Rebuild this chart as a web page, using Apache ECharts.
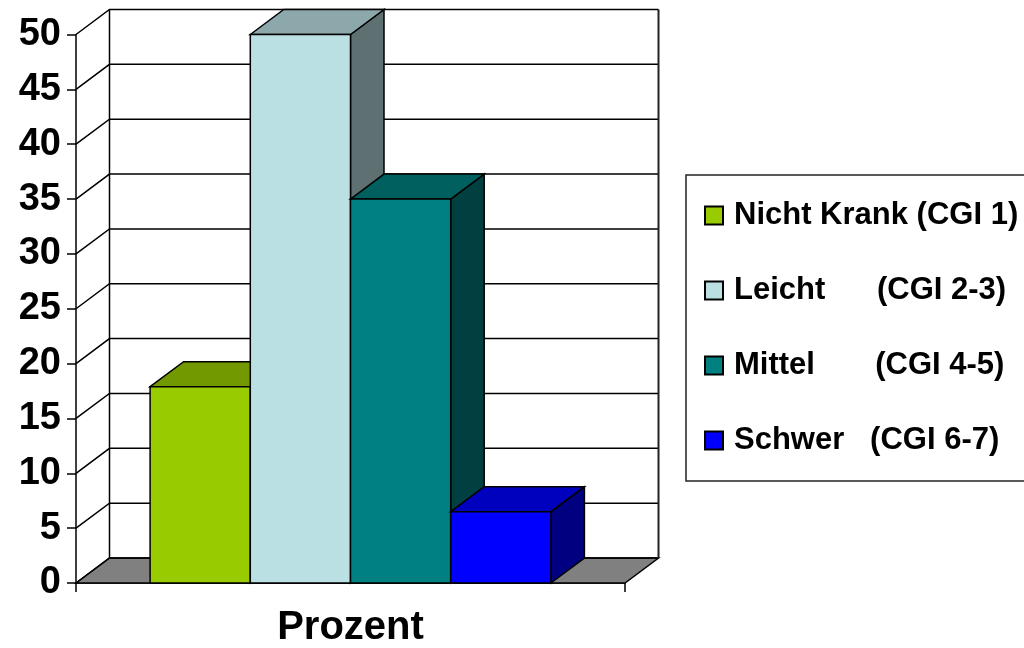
<!DOCTYPE html>
<html>
<head>
<meta charset="utf-8">
<style>
  html, body { margin: 0; padding: 0; background: #fff; overflow: hidden; }
  #chart { width: 1024px; height: 648px; }
</style>
<script src="https://cdn.jsdelivr.net/npm/echarts@6/dist/echarts.min.js"></script>
</head>
<body>
<div id="chart"></div>
<script>
const categories = ['Prozent'];
const yTicks = [0, 5, 10, 15, 20, 25, 30, 35, 40, 45, 50];
const seriesNames = [
  'Nicht Krank (CGI 1)',
  'Leicht      (CGI 2-3)',
  'Mittel       (CGI 4-5)',
  'Schwer   (CGI 6-7)'
];
const seriesValues = [17.9, 50, 35, 6.5];
const frontColors = ['#99CC00', '#BBE0E3', '#008080', '#0000FF'];
const topColors = ['#739900', '#8CA8AA', '#006060', '#0000BF'];
const sideColors = ['#4D6600', '#5E7072', '#004040', '#000080'];

// depth of the fake 3d box, in pixels
const depthX = 33.5;
const depthY = -25;
const barShare = 100.2 / 549;
const edge = { stroke: '#000', lineWidth: 1.5 };

function renderFrame(params, api) {
  const value = api.value(1);
  const center = api.coord([0, value]);
  const half = api.size([1, 0])[0] / 2;
  const left = center[0] - half;
  const right = center[0] + half;
  const y = center[1];
  const children = [];

  if (value === yTicks[0]) {
    children.push({
      type: 'polygon',
      shape: { points: [[left, y], [left + depthX, y + depthY], [right + depthX, y + depthY], [right, y]] },
      style: { fill: '#808080', stroke: '#000', lineWidth: 1.5 }
    });
  }
  if (value === yTicks[yTicks.length - 1]) {
    const bottom = api.coord([0, yTicks[0]])[1];
    children.push({
      type: 'polyline',
      shape: { points: [[left + depthX, y + depthY], [left + depthX, bottom + depthY]] },
      style: { stroke: '#000', lineWidth: 1.5, fill: null }
    });
    children.push({
      type: 'polyline',
      shape: { points: [[right + depthX, y + depthY], [right + depthX, bottom + depthY]] },
      style: { stroke: '#222', lineWidth: 2, fill: null }
    });
  }
  children.push({
    type: 'polyline',
    shape: { points: [[left, y], [left + depthX, y + depthY], [right + depthX, y + depthY]] },
    style: { stroke: '#000', lineWidth: 1.5, fill: null }
  });
  return { type: 'group', children: children };
}

function renderBar(index) {
  return function (params, api) {
    const top = api.coord([0, api.value(1)]);
    const bottom = api.coord([0, 0]);
    const width = api.size([1, 0])[0] * barShare;
    const x0 = top[0] + (index - seriesValues.length / 2) * width;
    const x1 = x0 + width;
    return {
      type: 'group',
      children: [
        {
          type: 'polygon',
          shape: { points: [[x1, bottom[1]], [x1 + depthX, bottom[1] + depthY], [x1 + depthX, top[1] + depthY], [x1, top[1]]] },
          style: Object.assign({ fill: sideColors[index] }, edge)
        },
        {
          type: 'polygon',
          shape: { points: [[x0, top[1]], [x0 + depthX, top[1] + depthY], [x1 + depthX, top[1] + depthY], [x1, top[1]]] },
          style: Object.assign({ fill: topColors[index] }, edge)
        },
        {
          type: 'polygon',
          shape: { points: [[x0, bottom[1]], [x0, top[1]], [x1, top[1]], [x1, bottom[1]]] },
          style: Object.assign({ fill: frontColors[index] }, edge)
        }
      ]
    };
  };
}

const barSeries = seriesNames.map((name, i) => ({
  name: name,
  type: 'custom',
  renderItem: renderBar(i),
  encode: { x: 0, y: 1 },
  itemStyle: { color: frontColors[i], borderColor: '#000', borderWidth: 1.5 },
  data: [[0, seriesValues[i]]],
  z: 3 + i
}));

const chart = echarts.init(document.getElementById('chart'), null, { renderer: 'canvas' });
chart.setOption({
  animation: false,
  backgroundColor: '#fff',
  textStyle: { fontFamily: 'Liberation Sans' },
  grid: { left: 76, right: 399, top: 34.5, bottom: 63 },
  legend: {
    left: 686,
    top: 175,
    orient: 'vertical',
    icon: 'rect',
    data: seriesNames,
    itemWidth: 18,
    itemHeight: 18,
    itemGap: 44,
    padding: [25, 30, 25, 18],
    borderColor: '#222',
    borderWidth: 1.5,
    backgroundColor: '#fff',
    selectedMode: false,
    textStyle: { fontFamily: 'Liberation Sans', fontWeight: 'bold', fontSize: 31, color: '#000', padding: [0, 0, 0, 6] }
  },
  xAxis: {
    type: 'category',
    data: categories,
    axisLine: { show: true, lineStyle: { color: '#000', width: 1.5 } },
    axisTick: { show: true, length: 9, lineStyle: { color: '#000', width: 1.5 } },
    axisLabel: { fontFamily: 'Liberation Sans', fontWeight: 'bold', fontSize: 40, color: '#000', margin: 25 },
    splitLine: { show: false }
  },
  yAxis: {
    type: 'value',
    min: 0,
    max: 50,
    interval: 5,
    axisLine: { show: true, lineStyle: { color: '#000', width: 1.5 } },
    axisTick: { show: true, length: 9, lineStyle: { color: '#000', width: 1.5 } },
    axisLabel: { fontFamily: 'Liberation Sans', fontWeight: 'bold', fontSize: 38, color: '#000', margin: 15 },
    splitLine: { show: false }
  },
  series: [{
    name: 'frame',
    type: 'custom',
    renderItem: renderFrame,
    encode: { x: 0, y: 1 },
    data: yTicks.map(v => [0, v]),
    silent: true,
    z: 1
  }].concat(barSeries)
});
</script>
</body>
</html>
